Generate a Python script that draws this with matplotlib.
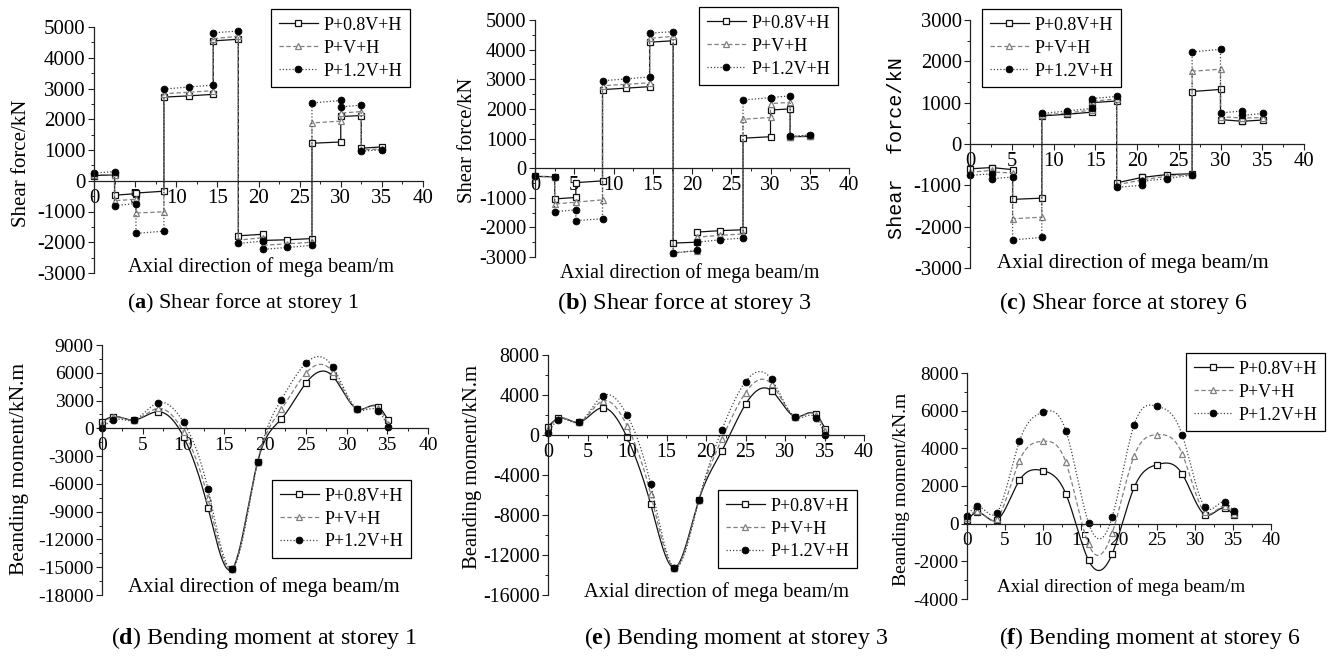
import numpy as np
import matplotlib
matplotlib.use("Agg")
import matplotlib.pyplot as plt
from matplotlib.lines import Line2D
from matplotlib.ticker import MultipleLocator

# ---------------- data ----------------
LABELS = ["P+0.8V+H", "P+V+H", "P+1.2V+H"]

# Shear force (kN); duplicated stations mark the jumps at the supports/joints
SF1_X = [0, 2.5, 2.5, 5.1, 5.1, 8.5, 8.5, 11.55, 14.5, 14.5, 17.55, 17.55,
         20.55, 20.55, 23.5, 26.5, 26.5, 30, 30, 32.5, 32.5, 35]
SF1_P08 = [170, 190, -470, -420, -400, -340, 2720, 2760, 2810, 4550, 4600, -1790,
           -1740, -1940, -1920, -1880, 1220, 1260, 2090, 2120, 1060, 1100]
SF1_P10 = [200, 200, -650, -600, -1050, -1010, 2830, 2880, 2930, 4620, 4700, -1930,
           -1850, -2100, -2050, -2000, 1880, 1940, 2200, 2250, 1000, 1040]
SF1_P12 = [250, 300, -810, -740, -1710, -1640, 2980, 3050, 3110, 4810, 4870, -2040,
           -1960, -2230, -2170, -2100, 2530, 2610, 2400, 2460, 960, 1010]

SF3_X = [0, 2.5, 2.5, 5.2, 5.2, 8.6, 8.6, 11.6, 14.6, 14.6, 17.6, 17.6,
         20.6, 20.6, 23.6, 26.5, 26.5, 30, 30, 32.5, 32.5, 35]
SF3_P08 = [-280, -290, -1040, -990, -490, -430, 2650, 2700, 2750, 4250, 4300, -2530,
           -2500, -2160, -2110, -2080, 1010, 1060, 1960, 2000, 1060, 1070]
SF3_P10 = [-280, -290, -1210, -1150, -1150, -1070, 2780, 2830, 2880, 4380, 4450, -2850,
           -2800, -2330, -2270, -2220, 1650, 1710, 2180, 2220, 1060, 1100]
SF3_P12 = [-280, -290, -1470, -1410, -1770, -1710, 2950, 3010, 3080, 4550, 4610, -2870,
           -2780, -2500, -2420, -2360, 2300, 2380, 2380, 2440, 1070, 1120]

SF6_X = [0, 2.6, 2.6, 5.1, 5.1, 8.6, 8.6, 11.65, 14.57, 14.57, 17.56, 17.56,
         20.56, 20.56, 23.55, 26.6, 26.6, 30, 30, 32.6, 32.6, 35.1]
SF6_P08 = [-600, -570, -570, -620, -1340, -1310, 680, 720, 770, 1000, 1040, -940,
           -810, -810, -740, -720, 1270, 1320, 590, 550, 550, 580]
SF6_P10 = [-680, -640, -680, -700, -1810, -1770, 700, 750, 820, 1030, 1090, -990,
           -870, -870, -780, -740, 1760, 1810, 660, 630, 630, 640]
SF6_P12 = [-760, -720, -840, -800, -2320, -2260, 740, 800, 860, 1100, 1150, -1050,
           -1000, -900, -840, -750, 2230, 2290, 750, 800, 690, 740]

# Bending moment (kN.m)
BM_X = [0, 1.3, 3.9, 6.9, 10.0, 13.0, 16.0, 19.1, 22.0, 25.0, 28.3, 31.3, 33.9, 35.1]
BM1_P08 = [720, 1260, 900, 1800, -900, -8570, -15150, -3600, 1000, 4860, 5650, 2090, 2340, 900]
BM1_P10 = [500, 1200, 880, 2160, -360, -7560, -15150, -3600, 2050, 5940, 6100, 2090, 2200, 500]
BM1_P12 = [0, 900, 900, 2770, 650, -6550, -15150, -3600, 3100, 7020, 6660, 2090, 1870, 180]

BM3_P08 = [830, 1670, 1270, 2730, -230, -6930, -13270, -6500, -1600, 3070, 4430, 1830, 2070, 600]
BM3_P10 = [600, 1650, 1270, 3400, 930, -5900, -13270, -6500, -430, 4230, 5100, 1830, 2000, 400]
BM3_P12 = [230, 1500, 1270, 3900, 2000, -4930, -13270, -6500, 500, 5330, 5570, 1770, 1730, 0]

BM6_P08 = [180, 600, 180, 2300, 2810, 1590, -1950, -1610, 1930, 3130, 2650, 480, 830, 440]
BM6_P10 = [300, 650, 250, 3350, 4370, 3270, -1100, -500, 3610, 4720, 3720, 600, 920, 530]
BM6_P12 = [390, 920, 570, 4370, 5910, 4940, 30, 350, 5260, 6230, 4730, 880, 1150, 650]

# ---------------- style ----------------
plt.rcParams["font.family"] = ["Liberation Serif", "DejaVu Serif"]
plt.rcParams["mathtext.fontset"] = "custom"
plt.rcParams["mathtext.rm"] = "Liberation Serif"
plt.rcParams["mathtext.bf"] = "Liberation Serif:bold"
plt.rcParams["axes.unicode_minus"] = False

W, H = 1329, 656
fig = plt.figure(figsize=(W / 100, H / 100), dpi=100)

STYLES = [
    dict(color="#111111", ls="-", marker="s", mfc="white", mec="#111111", ms=4.3, mew=0.9),
    dict(color="#808080", ls=(0, (3.5, 2)), marker="^", mfc="white", mec="#808080", ms=5.0, mew=0.9),
    dict(color="#444444", ls=(0, (1, 1.6)), marker="o", mfc="black", mec="black", ms=4.9, mew=0.6),
]


def fxp(px):
    return px / W


def fyp(py):
    return 1 - py / H


def natural_spline(x, y, n=500):
    x = np.asarray(x, float)
    y = np.asarray(y, float)
    m = len(x)
    h = np.diff(x)
    A = np.zeros((m, m))
    b = np.zeros(m)
    A[0, 0] = A[-1, -1] = 1.0
    for i in range(1, m - 1):
        A[i, i - 1] = h[i - 1]
        A[i, i] = 2 * (h[i - 1] + h[i])
        A[i, i + 1] = h[i]
        b[i] = 3 * ((y[i + 1] - y[i]) / h[i] - (y[i] - y[i - 1]) / h[i - 1])
    c = np.linalg.solve(A, b)
    bc = (y[1:] - y[:-1]) / h - h * (2 * c[:-1] + c[1:]) / 3
    d = (c[1:] - c[:-1]) / (3 * h)
    xs = np.linspace(x[0], x[-1], n)
    idx = np.clip(np.searchsorted(x, xs) - 1, 0, m - 2)
    dx = xs - x[idx]
    return xs, y[idx] + bc[idx] * dx + c[idx] * dx ** 2 + d[idx] * dx ** 3


def make_axes(box, ylim, major, minor, tick_fs):
    x0, x40, ytop, ybot = box
    ax = fig.add_axes([fxp(x0), fyp(ybot), (x40 - x0) / W, (ybot - ytop) / H])
    ax.set_xlim(0, 40)
    ax.set_ylim(*ylim)
    ax.patch.set_alpha(0)
    for s in ("top", "right"):
        ax.spines[s].set_visible(False)
    ax.spines["bottom"].set_position(("data", 0))
    for s in ("left", "bottom"):
        ax.spines[s].set_linewidth(0.9)
        ax.spines[s].set_color("#222222")
    ax.xaxis.set_major_locator(MultipleLocator(5))
    ax.xaxis.set_minor_locator(MultipleLocator(2.5))
    ax.yaxis.set_major_locator(MultipleLocator(major))
    ax.yaxis.set_minor_locator(MultipleLocator(minor))
    ax.tick_params(which="major", direction="out", length=4, width=0.8,
                   colors="#222222", labelsize=tick_fs, pad=2)
    ax.tick_params(which="minor", direction="out", length=2.2, width=0.7, colors="#222222")
    ax.xaxis.set_major_formatter(plt.FuncFormatter(lambda v, p: f"{int(round(v))}"))
    ax.yaxis.set_major_formatter(plt.FuncFormatter(lambda v, p: f"{int(round(v))}"))
    for t in ax.get_xticklabels() + ax.get_yticklabels():
        t.set_color("black")
    return ax


def add_legend(ax, left_px, top_px, fs=13):
    handles = [Line2D([], [], lw=0.9, **st) for st in STYLES]
    leg = ax.legend(handles, LABELS, loc="upper left",
                    bbox_to_anchor=(fxp(left_px), fyp(top_px)),
                    bbox_transform=fig.transFigure, borderaxespad=0,
                    fontsize=fs, frameon=True, fancybox=False,
                    handlelength=2.2, handletextpad=0.3, labelspacing=0.33,
                    borderpad=0.42, numpoints=1)
    fr = leg.get_frame()
    fr.set_edgecolor("black")
    fr.set_linewidth(0.9)
    fr.set_alpha(1)


def shear_panel(box, ylim, xs, series, leg_pos, tick_fs):
    ax = make_axes(box, ylim, 1000, 500, tick_fs)
    for ys, st in zip(series, STYLES):
        ax.plot(xs, ys, lw=0.9, clip_on=False, **st)
    add_legend(ax, *leg_pos)
    return ax


def moment_panel(box, ylim, major, minor, series, leg_pos, tick_fs):
    ax = make_axes(box, ylim, major, minor, tick_fs)
    for ys, st in zip(series, STYLES):
        sx, sy = natural_spline(BM_X, ys)
        ax.plot(sx, sy, color=st["color"], ls=st["ls"], lw=0.9, clip_on=False)
        ax.plot(BM_X, ys, ls="none", marker=st["marker"], mfc=st["mfc"], mec=st["mec"],
                ms=st["ms"], mew=st["mew"], clip_on=False)
    add_legend(ax, *leg_pos)
    return ax


shear_panel((94, 423, 27, 273), (-3000, 5000), SF1_X, [SF1_P08, SF1_P10, SF1_P12], (271, 9), 15)
shear_panel((535, 849, 20, 257), (-3000, 5000), SF3_X, [SF3_P08, SF3_P10, SF3_P12], (699, 7), 14.7)
shear_panel((970, 1304, 20, 268), (-3000, 3000), SF6_X, [SF6_P08, SF6_P10, SF6_P12], (982, 9), 14.9)
moment_panel((102, 428, 345, 595), (-18000, 9000), 3000, 1500,
             [BM1_P08, BM1_P10, BM1_P12], (272, 480), 14)
moment_panel((548, 864, 355, 595), (-16000, 8000), 4000, 2000,
             [BM3_P08, BM3_P10, BM3_P12], (718, 490), 14.4)
moment_panel((967, 1271, 373, 599), (-4000, 8000), 2000, 1000,
             [BM6_P08, BM6_P10, BM6_P12], (1186, 353), 13.9)

# axis titles
XLAB = "Axial direction of mega beam/m"
for cx, cy, fs in [(261, 267, 14.8), (690, 273, 14.3), (1133, 263, 15),
                   (264, 587, 15), (716, 592, 14.7), (1121, 587, 13.8)]:
    fig.text(fxp(cx), fyp(cy), XLAB, ha="center", va="center", fontsize=fs)

for cx, cy, txt, fs, fam in [
        (22, 163, "Shear force/kN", 15, None),
        (467, 140, "Shear force/kN", 14.9, None),
        (897, 148, "Shear  force/kN", 14.5, ["Liberation Mono", "DejaVu Sans Mono"]),
        (20, 469, "Beanding moment/kN.m", 15.5, None),
        (472, 467, "Beanding moment/kN.m", 14.9, None),
        (902, 489, "Beanding moment/kN.m", 14, None)]:
    kw = {} if fam is None else {"family": fam}
    fig.text(fxp(cx), fyp(cy), txt, ha="center", va="center", rotation=90,
             fontsize=fs, **kw)

# sub-figure captions
for cx, cy, letter, txt, fs in [
        (243, 303, "a", "Shear force at storey 1", 16),
        (684, 303, "b", "Shear force at storey 3", 17.5),
        (1123, 303, "c", "Shear force at storey 6", 17.2),
        (264, 638, "d", "Bending moment at storey 1", 17.2),
        (736, 638, "e", "Bending moment at storey 3", 17.2),
        (1150, 638, "f", "Bending moment at storey 6", 17.2)]:
    fig.text(fxp(cx), fyp(cy), "(" + r"$\mathbf{" + letter + "}$" + ") " + txt,
             ha="center", va="center", fontsize=fs)

fig.savefig("out.png", dpi=100)
